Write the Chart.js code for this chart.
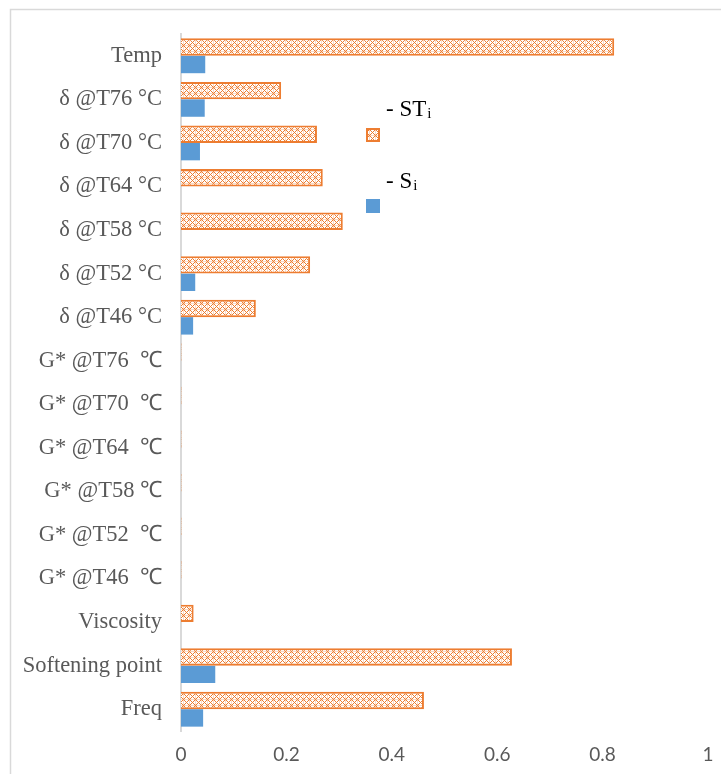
<!DOCTYPE html>
<html>
<head>
<meta charset="utf-8">
<script src="https://cdn.jsdelivr.net/npm/chart.js@4"></script>
<style>
  html, body { margin: 0; padding: 0; background: #fff; }
  #wrap { width: 721px; height: 774px; position: relative; }
</style>
</head>
<body>
<div id="wrap"><canvas id="sens"></canvas></div>
<script>
// sensitivity indices per parameter, top to bottom
const params = [
  'Temp', 'δ @T76 °C', 'δ @T70 °C', 'δ @T64 °C', 'δ @T58 °C', 'δ @T52 °C', 'δ @T46 °C',
  'G* @T76  ℃', 'G* @T70  ℃', 'G* @T64  ℃', 'G* @T58 ℃', 'G* @T52  ℃', 'G* @T46  ℃',
  'Viscosity', 'Softening point', 'Freq'
];
const totalIdx = [0.822, 0.19, 0.258, 0.269, 0.307, 0.245, 0.142,
  0.001, 0.001, 0.001, 0.001, 0.001, 0.001, 0.024, 0.628, 0.461];
const firstIdx = [0.046, 0.045, 0.036, 0, 0, 0.027, 0.023,
  0, 0, 0, 0, 0, 0, 0, 0.065, 0.042];
const xTicks = [0, 0.2, 0.4, 0.6, 0.8, 1];

const ORANGE = '#ED7D31';
const BLUE = '#5B9BD5';
const GREY = '#595959';

// small lattice fill like the office "dotted grid" pattern
const makeHatch = () => {
  const c = document.createElement('canvas');
  c.width = 6; c.height = 6;
  const g = c.getContext('2d');
  g.fillStyle = '#fff';
  g.fillRect(0, 0, 6, 6);
  g.fillStyle = ORANGE;
  for (let x = 0; x < 6; x++) {
    for (let y = 0; y < 6; y++) {
      if ((x + y) % 6 === 0 || (x - y + 6) % 6 === 0) g.fillRect(x, y, 1, 1);
    }
  }
  g.fillStyle = 'rgba(237,125,49,0.3)';
  g.fillRect(3, 0, 1, 6);
  g.fillRect(0, 3, 6, 1);
  return g.createPattern(c, 'repeat');
};
const hatch = makeHatch();

const frame = {
  id: 'frame',
  beforeDraw(chart) {
    const ctx = chart.ctx;
    ctx.save();
    ctx.strokeStyle = '#d9d9d9';
    ctx.lineWidth = 1.5;
    ctx.strokeRect(10.5, 9.5, 800, 800);
    ctx.restore();
  }
};

// legend sits inside the plot: label above its swatch
const legendBox = {
  id: 'legendBox',
  afterDraw(chart) {
    const ctx = chart.ctx;
    const items = [
      { main: '- ST', sub: 'i', y: 116, fill: hatch, stroke: ORANGE, sy: 128 },
      { main: '- S', sub: 'i', y: 188, fill: BLUE, stroke: null, sy: 199 }
    ];
    ctx.save();
    items.forEach((it) => {
      ctx.fillStyle = '#000';
      ctx.textBaseline = 'alphabetic';
      ctx.font = '23px "Liberation Serif", serif';
      ctx.fillText(it.main, 386, it.y);
      const w = ctx.measureText(it.main).width;
      ctx.font = '15px "Liberation Serif", serif';
      ctx.fillText(it.sub, 386 + w + 1, it.y + 2);
      ctx.fillStyle = it.fill;
      ctx.fillRect(366, it.sy, 14, 14);
      if (it.stroke) {
        ctx.strokeStyle = it.stroke;
        ctx.lineWidth = 2;
        ctx.strokeRect(367, it.sy + 1, 12, 12);
      }
    });
    ctx.restore();
  }
};

new Chart('sens', {
  type: 'bar',
  data: {
    labels: params,
    datasets: [
      {
        label: 'STi',
        data: totalIdx,
        backgroundColor: hatch,
        borderColor: ORANGE,
        borderWidth: 2,
        categoryPercentage: 0.8,
        barPercentage: 1
      },
      {
        label: 'Si',
        data: firstIdx,
        backgroundColor: BLUE,
        borderWidth: 0,
        categoryPercentage: 0.8,
        barPercentage: 1
      }
    ]
  },
  options: {
    indexAxis: 'y',
    responsive: true,
    maintainAspectRatio: false,
    animation: false,
    layout: { padding: { top: 34, right: 13, bottom: 0, left: 0 } },
    plugins: {
      legend: { display: false },
      tooltip: { enabled: false }
    },
    scales: {
      x: {
        min: 0,
        max: 1,
        afterBuildTicks: (scale) => { scale.ticks = xTicks.map((v) => ({ value: v })); },
        afterFit: (scale) => {
          scale.height = 43;
          scale.paddingLeft = 0;
          scale.paddingRight = 0;
        },
        grid: { display: false, drawTicks: false },
        border: { display: false },
        ticks: {
          padding: 12,
          color: GREY,
          font: { family: 'Lato', size: 19 },
          maxRotation: 0,
          callback: (v) => String(v)
        }
      },
      y: {
        afterFit: (scale) => { scale.width = 181; },
        grid: { display: false, drawTicks: false },
        border: { display: true, color: '#d9d9d9', width: 2 },
        ticks: {
          padding: 19,
          color: GREY,
          autoSkip: false,
          font: { family: '"Liberation Serif"', size: 22.5 }
        }
      }
    }
  },
  plugins: [frame, legendBox]
});
</script>
</body>
</html>
